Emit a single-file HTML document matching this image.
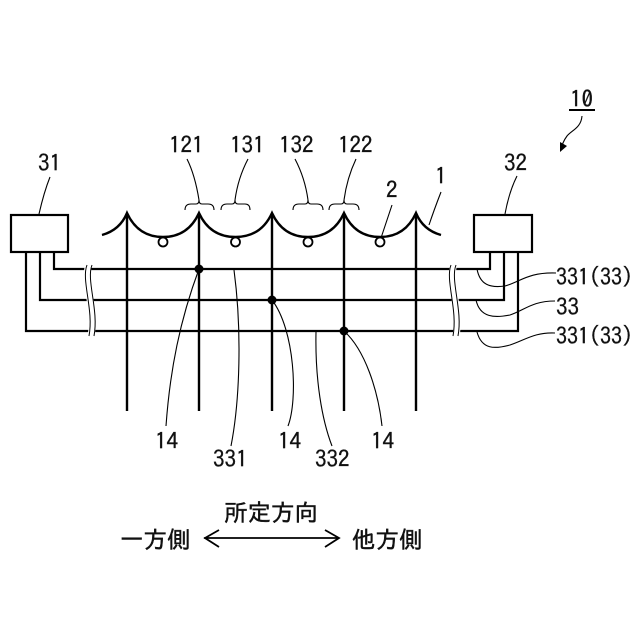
<!DOCTYPE html>
<html><head><meta charset="utf-8"><style>
html,body{margin:0;padding:0;background:#fff}
svg{display:block}
text{font-family:"IPAGothic","Liberation Sans",sans-serif;fill:#111;font-size:23px;stroke:#111;stroke-width:.35px}
.cj{font-size:23.500px;stroke-width:.45px}
</style></head><body>
<svg width="640" height="640" viewBox="0 0 640 640" xmlns="http://www.w3.org/2000/svg">
<rect width="640" height="640" fill="#fff"/>
<g fill="none" stroke="#000" stroke-width="2.200">
<rect x="11" y="215" width="57" height="37"/>
<rect x="474" y="215" width="58" height="37"/>
<path d="M54 252V269H490V252M40 252V300H504V252M26 252V331H518V252"/>
</g>
<g fill="none" stroke="#fff" stroke-width="7">
<path d="M89 264C83 280 96 310 91 336"/>
<path d="M454 264C448 280 461 310 456 336"/>
</g>
<g fill="none" stroke="#000" stroke-width="1">
<path d="M87 265C81 280 94 310 89 336M92 265C86 280 99 310 94 336"/>
<path d="M451 265C445 280 458 310 453 336M456 265C450 280 463 310 458 336"/>
</g>
<g fill="none" stroke="#000" stroke-width="2.400">
<path d="M127 213V411M199 213V411M272 213V411M344 213V411M416 213V411"/>
<path d="M102 235Q120 230 127 213Q138 237 163 237Q188 237 199 213Q210 237 235.500 237Q261 237 272 213Q283 237 308 237Q333 237 344 213Q355 237 380 237Q405 237 416 213Q423 230 441 235"/>
</g>
<g fill="#fff" stroke="#000" stroke-width="1.800">
<circle cx="163" cy="242" r="4.500"/><circle cx="235.500" cy="242" r="4.500"/><circle cx="308" cy="242" r="4.500"/><circle cx="380" cy="242" r="4.500"/>
</g>
<g fill="#000"><circle cx="199" cy="269" r="4.500"/><circle cx="272" cy="300" r="4.500"/><circle cx="344" cy="331" r="4.500"/></g>
<g fill="none" stroke="#000" stroke-width="1.100">
<path d="M50 177Q44 192 39 214"/>
<path d="M187 159Q195 175 199 200M248 159Q238 178 235 200M295 159Q305 178 308 200M356 159Q347 178 344 200"/>
<path d="M185 210Q185 204 191 204H196Q199 204 199 200Q199 204 202 204H208Q214 204 214 210"/>
<path d="M221 210Q221 204 227 204H232Q235 204 235 200Q235 204 238 204H245Q250 204 250 210"/>
<path d="M293 210Q293 204 299 204H305Q308 204 308 200Q308 204 311 204H317Q323 204 323 210"/>
<path d="M329 210Q329 204 335 204H341Q344 204 344 200Q344 204 347 204H353Q359 204 359 210"/>
<path d="M392 205L381 238"/>
<path d="M441 192Q434 210 429 225"/>
<path d="M517 176Q509 192 505 214"/>
<path d="M199 269C180 320 170 370 166 426"/>
<path d="M234 270C242 330 240 400 231 446"/>
<path d="M272 300C295 330 298 400 288 426"/>
<path d="M316 332C315 380 322 420 332 446"/>
<path d="M344 331C365 350 378 390 382 426"/>
<path d="M477 269C480 285 490 288 505 286C520 282 528 272 556 273"/>
<path d="M476 300C480 318 495 318 510 315C525 310 532 301 555 301"/>
<path d="M477 332C482 350 495 349 510 345C525 340 535 332 555 333"/>
<path d="M582 116C581 128 572 130 567 136C564 140 562 144 561 150"/>
</g>
<path d="M560 152L560 142L567 146Z" fill="#000"/>
<rect x="569" y="109" width="26" height="2" fill="#000"/>
<text x="570" y="107">10</text>
<text x="38" y="171">31</text>
<text x="169" y="153">121</text>
<text x="230" y="153">131</text>
<text x="279" y="153">132</text>
<text x="338" y="153">122</text>
<text x="386" y="198">2</text>
<text x="435" y="184">1</text>
<text x="504" y="171">32</text>
<text x="556" y="285" textLength="77" lengthAdjust="spacingAndGlyphs">331(33)</text>
<text x="556" y="315">33</text>
<text x="556" y="344" textLength="77" lengthAdjust="spacingAndGlyphs">331(33)</text>
<text x="155" y="449">14</text>
<text x="213" y="467">331</text>
<text x="278" y="449">14</text>
<text x="315" y="467">332</text>
<text x="371" y="449">14</text>
<text class="cj" x="224" y="521">所定方向</text>
<text class="cj" x="120" y="548">一方側</text>
<text class="cj" x="352" y="548">他方側</text>
<g fill="none" stroke="#000" stroke-width="1.800">
<path d="M204 538H338M219 530L205 538L219 547M325 530L339 538L325 547"/>
</g>
</svg>
</body></html>
